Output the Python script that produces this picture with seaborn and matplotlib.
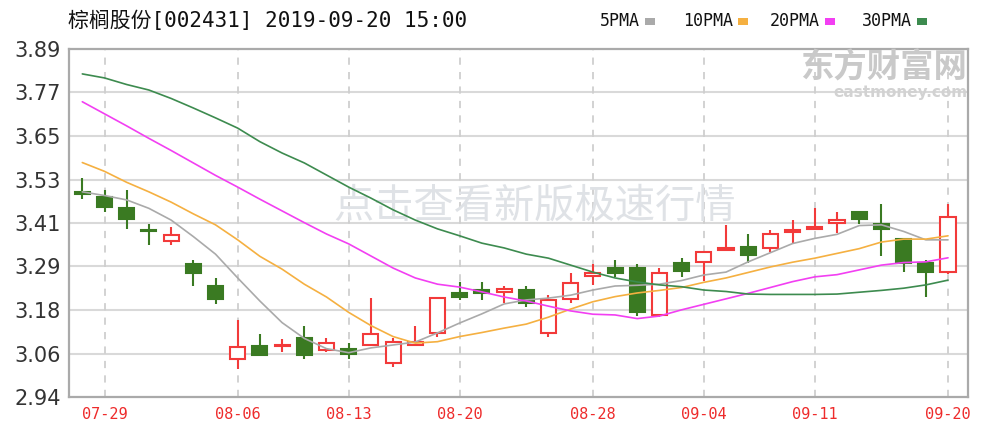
import numpy as np
import pandas as pd
import matplotlib
matplotlib.use("Agg")
import matplotlib.pyplot as plt
import seaborn as sns
from matplotlib.patches import Rectangle

# trading days shown (MM-DD)
dates = ["07-26", "07-29", "07-30", "07-31", "08-01", "08-02", "08-05", "08-06", "08-07", "08-08",
         "08-09", "08-12", "08-13", "08-14", "08-15", "08-16", "08-19", "08-20", "08-21", "08-22",
         "08-23", "08-26", "08-27", "08-28", "08-29", "08-30", "09-02", "09-03", "09-04", "09-05",
         "09-06", "09-09", "09-10", "09-11", "09-12", "09-16", "09-17", "09-18", "09-19", "09-20"]

open_ = [3.500, 3.485, 3.455, 3.396, 3.367, 3.302, 3.243, 3.044, 3.079, 3.078,
         3.100, 3.068, 3.070, 3.082, 3.032, 3.082, 3.114, 3.223, 3.232, 3.227,
         3.232, 3.116, 3.207, 3.270, 3.291, 3.291, 3.164, 3.305, 3.309, 3.341,
         3.350, 3.346, 3.390, 3.399, 3.414, 3.446, 3.411, 3.371, 3.305, 3.282]
close = [3.495, 3.458, 3.425, 3.393, 3.382, 3.278, 3.207, 3.077, 3.055, 3.082,
         3.055, 3.088, 3.057, 3.111, 3.091, 3.091, 3.209, 3.212, 3.223, 3.234,
         3.196, 3.205, 3.252, 3.279, 3.278, 3.173, 3.279, 3.284, 3.335, 3.348,
         3.328, 3.384, 3.396, 3.405, 3.423, 3.426, 3.399, 3.305, 3.282, 3.432]
high = [3.537, 3.505, 3.505, 3.412, 3.405, 3.314, 3.266, 3.150, 3.112, 3.098,
        3.134, 3.100, 3.088, 3.211, 3.100, 3.134, 3.209, 3.255, 3.255, 3.243,
        3.243, 3.218, 3.279, 3.303, 3.314, 3.303, 3.291, 3.320, 3.335, 3.410,
        3.384, 3.396, 3.423, 3.457, 3.446, 3.449, 3.466, 3.371, 3.314, 3.466]
low = [3.480, 3.446, 3.398, 3.355, 3.355, 3.243, 3.194, 3.016, 3.053, 3.064,
       3.043, 3.064, 3.043, 3.080, 3.021, 3.080, 3.105, 3.205, 3.205, 3.196,
       3.185, 3.103, 3.196, 3.246, 3.268, 3.161, 3.159, 3.268, 3.257, 3.341,
       3.305, 3.337, 3.360, 3.398, 3.387, 3.411, 3.326, 3.282, 3.214, 3.275]

ma5 = [3.500, 3.490, 3.478, 3.455, 3.423, 3.378, 3.330, 3.265, 3.202, 3.143,
       3.100, 3.072, 3.061, 3.074, 3.082, 3.090, 3.115, 3.142, 3.167, 3.194,
       3.205, 3.210, 3.218, 3.232, 3.243, 3.245, 3.248, 3.258, 3.273, 3.281,
       3.309, 3.334, 3.359, 3.373, 3.384, 3.408, 3.410, 3.392, 3.369, 3.369]
ma10 = [3.580, 3.556, 3.526, 3.500, 3.472, 3.440, 3.410, 3.369, 3.324, 3.289,
        3.248, 3.213, 3.171, 3.135, 3.105, 3.087, 3.091, 3.105, 3.116, 3.128,
        3.139, 3.158, 3.180, 3.200, 3.214, 3.224, 3.231, 3.239, 3.253, 3.265,
        3.280, 3.295, 3.308, 3.319, 3.332, 3.345, 3.363, 3.371, 3.371, 3.380]
ma20 = [3.746, 3.713, 3.680, 3.646, 3.613, 3.579, 3.545, 3.513, 3.480, 3.448,
        3.416, 3.385, 3.358, 3.325, 3.292, 3.265, 3.248, 3.240, 3.227, 3.213,
        3.202, 3.188, 3.175, 3.166, 3.164, 3.154, 3.161, 3.178, 3.193, 3.208,
        3.223, 3.239, 3.255, 3.268, 3.274, 3.287, 3.300, 3.307, 3.309, 3.320]
ma30 = [3.822, 3.811, 3.793, 3.778, 3.755, 3.729, 3.702, 3.674, 3.637, 3.606,
        3.579, 3.546, 3.513, 3.483, 3.451, 3.423, 3.399, 3.380, 3.360, 3.347,
        3.330, 3.319, 3.300, 3.281, 3.265, 3.254, 3.246, 3.241, 3.232, 3.228,
        3.221, 3.220, 3.220, 3.220, 3.221, 3.226, 3.231, 3.237, 3.246, 3.259]

tick_dates = ["07-29", "08-06", "08-13", "08-20", "08-28", "09-04", "09-11", "09-20"]
ytick_labels = ["2.94", "3.06", "3.18", "3.29", "3.41", "3.53", "3.65", "3.77", "3.89"]
ma_names = ["5PMA", "10PMA", "20PMA", "30PMA"]
ma_colors = ["#aaaaaa", "#f5b041", "#f23ff2", "#3d8b4f"]

UP = "#f23a3a"
DOWN = "#3a7a22"

sns.set_style("white")
plt.rcParams["font.family"] = ["DejaVu Sans", "Noto Sans CJK SC"]

fig = plt.figure(figsize=(9.82, 4.32), dpi=100)
ax = fig.add_axes([69 / 982, 35 / 432, 899 / 982, 348 / 432])

x = np.arange(len(dates))
o = np.array(open_)
c = np.array(close)
up = c >= o

# grid
ymin, ymax = float(ytick_labels[0]), float(ytick_labels[-1])
yt = np.linspace(ymin, ymax, len(ytick_labels))
for yv in yt[1:-1]:
    ax.axhline(yv, color="#d9d9d9", lw=1.5, zorder=0)
tick_pos = [dates.index(d) for d in tick_dates]
for xv in tick_pos:
    ax.axvline(xv, color="#cfcfcf", lw=1.3, ls=(0, (4, 4)), zorder=0)

# watermark
ax.text(0.518, 0.548, "点击查看新版极速行情", transform=ax.transAxes, ha="center", va="center",
        fontsize=29, color="#dfe2e6", family=["Noto Sans CJK SC"], zorder=1)

# candles
ax.vlines(x[up], np.array(low)[up], np.array(high)[up], color=UP, lw=1.5, zorder=2)
ax.vlines(x[~up], np.array(low)[~up], np.array(high)[~up], color=DOWN, lw=1.5, zorder=2)
ax.bar(x[up], (c - o)[up], bottom=o[up], width=0.68, facecolor="white",
       edgecolor=UP, linewidth=1.5, zorder=3)
ax.bar(x[~up], (c - o)[~up], bottom=o[~up], width=0.68, facecolor=DOWN,
       edgecolor=DOWN, linewidth=1.5, zorder=3)

# moving averages
ma_df = pd.DataFrame({"idx": x, "5PMA": ma5, "10PMA": ma10, "20PMA": ma20, "30PMA": ma30})
long_df = ma_df.melt(id_vars="idx", var_name="series", value_name="value")
sns.lineplot(data=long_df, x="idx", y="value", hue="series", hue_order=ma_names,
             palette=ma_colors, linewidth=1.2, legend=False, ax=ax, zorder=4)

ax.set_xlim(-0.6, 39.9)
ax.set_ylim(ymin, ymax)
ax.set_yticks(yt)
ax.set_yticklabels(ytick_labels, fontsize=15, color="#333333")
ax.set_xticks(tick_pos)
ax.set_xticklabels(tick_dates, fontsize=11, color="#ee2b2b", family=["DejaVu Sans Mono"])
ax.tick_params(axis="both", length=0)
ax.tick_params(axis="y", pad=6)
ax.tick_params(axis="x", pad=7)
ax.set_xlabel("")
ax.set_ylabel("")
for s in ax.spines.values():
    s.set_color("#aaaaaa")
    s.set_linewidth(1.6)
    s.set_visible(True)

# title
fig.text(68 / 982, 1 - 21 / 432, "棕榈股份[002431] 2019-09-20 15:00", ha="left", va="center",
         fontsize=15, color="#111111", family=["DejaVu Sans Mono", "Noto Sans CJK SC"])

# legend
leg_x = [600, 683, 770, 862]
for name, col, lx in zip(ma_names, ma_colors, leg_x):
    fig.text(lx / 982, 1 - 21 / 432, name, ha="left", va="center", fontsize=12,
             color="#111111", family=["DejaVu Sans Mono"])
    w = len(name) * 0.602 * 12 / 72 * 100
    fig.patches.append(Rectangle(((lx + w + 5) / 982, 1 - 25 / 432), 10 / 982, 7 / 432,
                                 transform=fig.transFigure, facecolor=col, edgecolor="none"))

# logo
fig.text(967 / 982, 1 - 68 / 432, "东方财富网", ha="right", va="center", fontsize=24,
         fontweight="bold", color="#c9c9c9", family=["Noto Sans CJK SC"])
fig.text(967 / 982, 1 - 93 / 432, "eastmoney.com", ha="right", va="center", fontsize=11,
         fontweight="bold", color="#d2d2d2", family=["DejaVu Sans"])

fig.savefig("out.png", dpi=100)
